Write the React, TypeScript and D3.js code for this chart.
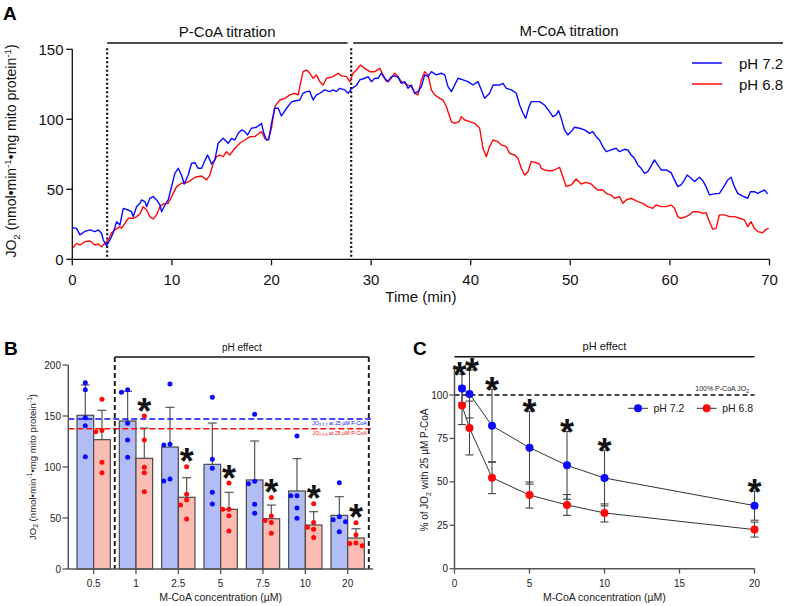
import React from "react";
import * as d3 from "d3";

// ---------- Panel A : JO2 traces ----------
const timeBlue = [0,0.43,0.77,1.27,1.77,2.27,2.61,2.94,3.11,3.44,3.78,4.11,4.45,4.78,5.12,5.62,5.95,6.12,6.45,6.79,6.96,7.29,7.46,7.79,8.13,8.46,8.80,8.96,9.30,9.63,9.97,10.30,10.64,10.97,11.24,11.64,11.97,12.31,12.64,12.98,13.31,13.58,13.81,13.98,14.31,14.65,15.15,15.65,15.99,16.32,16.66,16.99,17.32,17.59,17.99,18.49,18.83,19.00,19.23,19.50,19.73,20.00,20.33,20.67,21.00,21.51,22.01,22.34,22.68,
22.84,23.17,23.51,23.84,24.18,24.51,24.85,25.35,25.85,26.18,26.52,26.85,27.36,27.69,28.02,28.53,28.86,29.36,29.70,30.03,30.37,30.70,31.03,31.37,31.70,32.04,32.37,32.71,33.04,33.38,33.71,34.04,34.38,34.71,35.05,35.38,35.72,36.05,36.55,37.05,37.39,37.72,38.06,38.39,38.73,39.23,39.73,40.23,40.73,41.07,41.40,41.90,42.24,42.91,43.24,43.58,44.08,44.58,44.91,45.25,45.52,45.85,46.08,46.59,
46.91,47.41,47.92,48.25,48.58,48.82,49.09,49.42,49.75,50.09,50.42,50.93,51.43,51.93,52.26,52.60,52.93,53.27,53.60,54.10,54.60,54.94,55.44,55.77,56.11,56.44,56.78,57.11,57.45,57.78,58.12,58.45,58.78,59.12,59.62,60.12,60.46,60.79,61.13,61.46,61.73,62.13,62.46,62.97,63.30,63.63,63.97,64.47,64.97,65.31,65.81,66.14,66.48,66.81,67.31,67.81,68.08,68.48,68.82,69.15,69.49,69.82];
const jo2Blue = [22.6,22.1,17.4,20.0,21.0,19.8,21.0,18.6,13.8,9.8,13.8,19.0,26.9,24.5,36.4,35.2,34.0,30.5,37.6,40.0,42.4,41.2,37.6,43.6,44.8,42.4,38.8,34.0,38.8,42.4,52.0,61.4,65.0,60.0,53.8,60.2,68.6,69.0,65.0,65.0,70.5,74.5,71.0,68.1,71.0,82.9,86.4,82.9,86.4,85.2,90.0,92.4,91.2,88.8,93.6,94.3,96.0,97.1,90.0,85.2,85.7,97.1,107.9,107.9,102.4,107.9,112.4,113.1,113.6,
113.8,118.6,119.8,120.0,113.8,117.4,118.6,121.0,119.8,121.0,119.8,122.1,121.0,118.6,121.7,124.3,128.1,129.3,130.5,126.9,129.3,129.3,132.9,129.3,126.9,130.5,131.0,130.0,125.7,126.9,122.1,124.5,118.6,119.8,123.3,131.7,130.5,134.0,131.7,132.9,131.7,123.3,119.8,124.5,129.3,128.1,126.9,124.5,126.9,121.0,115.0,118.6,124.5,124.5,125.7,122.1,121.0,118.6,110.2,104.3,100.7,109.0,112.6,112.6,
112.6,110.2,105.5,101.9,103.1,106.2,100.7,92.4,88.8,91.2,94.3,93.6,92.4,90.0,91.2,87.6,85.2,80.5,76.9,78.1,79.3,76.9,78.6,78.1,74.5,72.1,67.4,65.0,61.4,62.6,66.7,71.0,67.4,63.8,63.8,61.9,56.7,51.9,53.1,56.7,60.2,57.9,55.5,58.6,56.2,51.9,46.0,46.7,47.1,50.7,56.7,58.6,51.9,47.1,45.2,43.6,48.3,48.3,47.1,48.3,49.5,46.7];

const timeRed = [0,0.43,0.77,1.27,1.77,2.27,2.61,2.94,3.28,3.61,3.95,4.28,4.78,4.95,5.28,5.62,6.12,6.45,6.79,7.12,7.46,7.79,8.13,8.46,8.80,9.13,9.63,9.97,10.47,10.97,11.30,11.81,12.31,12.98,13.48,13.81,14.15,14.48,14.82,15.15,15.48,15.82,16.32,16.82,17.32,17.83,18.33,18.66,19.00,19.33,19.67,20.00,20.33,20.84,21.34,21.84,22.34,22.68,
22.84,23.17,23.51,23.84,24.18,24.51,24.85,25.18,25.52,26.18,26.69,27.02,27.52,27.86,28.19,28.53,28.93,29.36,29.86,30.37,30.87,31.20,31.54,31.87,32.37,32.71,33.04,33.38,33.71,34.04,34.38,34.71,35.05,35.38,35.72,36.05,36.39,36.89,37.22,37.56,38.06,38.39,38.83,39.06,39.40,39.90,40.40,40.90,41.23,41.57,41.90,42.24,42.74,43.07,43.58,43.91,44.41,44.75,45.08,45.42,45.75,46.08,46.59,
46.91,47.08,47.41,47.75,48.25,48.58,48.92,49.25,49.59,50.09,50.59,51.09,51.59,52.10,52.43,52.76,53.27,53.60,54.10,54.44,54.94,55.27,55.61,56.11,56.44,56.78,57.28,57.78,58.28,58.62,59.12,59.62,60.12,60.46,60.79,61.13,61.63,61.96,62.30,62.80,63.30,63.63,63.97,64.30,64.64,64.97,65.47,65.98,66.48,66.98,67.48,67.81,68.15,68.48,68.82,69.32,69.65,69.92];
const jo2Red = [7.9,11.4,10.2,12.6,13.1,10.2,10.9,9.0,11.4,13.8,19.0,21.0,23.3,22.1,25.7,29.3,29.3,30.5,32.4,37.6,35.2,30.5,28.8,31.7,37.6,39.5,40.0,44.8,51.9,54.3,54.3,56.0,58.6,59.5,56.7,60.2,68.6,73.3,74.5,73.3,76.9,74.5,79.3,82.9,85.2,87.6,87.6,89.5,91.2,86.4,85.2,93.6,109.0,113.8,115.0,117.4,118.6,117.4,
123.3,134.0,135.2,133.0,129.3,131.7,126.9,124.5,129.3,130.5,132.9,131.0,130.5,126.9,132.9,135.2,138.8,136.4,134.0,134.0,136.4,131.7,126.9,128.1,132.9,130.5,126.9,125.7,124.5,123.3,118.6,117.4,128.1,134.0,131.7,121.0,117.4,115.0,113.8,109.0,98.3,97.1,98.3,101.9,99.5,98.3,97.1,93.6,79.3,73.3,80.5,85.2,84.0,81.7,80.5,75.7,74.5,72.1,65.0,60.2,62.6,69.8,69.0,
68.0,65.0,63.8,63.3,63.3,64.5,65.7,59.0,51.9,53.1,57.4,53.8,55.0,53.8,51.4,49.5,49.5,47.1,45.9,43.6,44.8,40.0,42.4,43.6,42.4,41.2,40.0,37.6,36.4,38.8,37.6,37.6,38.8,36.4,30.5,29.3,30.5,31.7,34.0,34.0,32.9,33.3,26.9,21.4,22.1,31.7,31.7,30.5,30.5,29.3,28.1,23.3,26.9,22.1,19.8,19.0,21.4,22.1];

const titrationTimes = [3.5, 28];
const titrationLabels = ["P-CoA titration", "M-CoA titration"];
const seriesLabels = ["pH 7.2", "pH 6.8"];

// ---------- Panel B : bars ----------
const mcoaLabels = ["0.5", "1", "2.5", "5", "7.5", "10", "20"];
const meanPH72 = [150.7, 145.1, 119.6, 102.6, 87.3, 76.5, 52.6];
const sdPH72 = [29.7, 29.1, 38.9, 40.5, 38.2, 31.7, 18.3];
const meanPH68 = [126.8, 108.5, 70.3, 58.5, 49.3, 43.1, 30.4];
const sdPH68 = [28.8, 29.7, 19.2, 16.7, 13.4, 13.1, 9.1];
const dotsPH72 = [
  [182.7, 175.8, 148.4, 140.5, 110.1],
  [175.8, 173.2, 142.8, 126.5, 109.5],
  [181.4, 121.6, 122.2, 86.3, 88.2],
  [168.3, 107.5, 98.7, 75.2, 63.7],
  [151.6, 83.5, 86.0, 63.4, 54.6],
  [130.4, 71.9, 71.9, 59.8, 49.7],
  [84.6, 48.4, 51.3, 46.4, 36.6],
];
const dotsPH68 = [
  [166.3, 134.6, 135.9, 104.6, 94.4],
  [150.0, 126.5, 99.7, 94.4, 75.8],
  [100.3, 73.2, 67.6, 62.8, 49.0],
  [84.3, 58.5, 58.5, 52.3, 37.3],
  [70.0, 47.5, 52.0, 45.6, 35.0],
  [64.0, 45.6, 41.0, 39.0, 31.0],
  [45.4, 33.5, 22.9, 25.5, 25.0],
];
const sigB = [false, true, true, true, true, true, true];
const refPH72 = 147.1;
const refPH68 = 137.6;

// ---------- Panel C : % of P-CoA JO2 ----------
const mcoaConc = [0.5, 1, 2.5, 5, 7.5, 10, 20];
const pctPH72 = [103.8, 100.6, 82.3, 69.7, 59.5, 52.2, 36.3];
const sdPct72 = [8.2, 13.8, 21.0, 21.0, 19.5, 16.0, 8.4];
const pctPH68 = [94.0, 81.0, 52.4, 42.4, 36.7, 32.1, 22.5];
const sdPct68 = [11.0, 15.5, 9.2, 7.5, 6.0, 5.2, 4.3];
const sigC = [true, true, true, true, true, true, true];

const BLUE = "#0a0aff";
const RED = "#ff0a0a";
const BLUE_FILL = "#b3bdf5";
const RED_FILL = "#fbbcb4";
const FONT = "'Liberation Sans', Arial, Helvetica, sans-serif";
const AX = "#555";

function swarm(values: number[], y: (v: number) => number, cx: number) {
  const order = values.map((v, i) => i).sort((a, b) => values[b] - values[a]);
  const placed: { x: number; y: number }[] = [];
  const out: { x: number; y: number }[] = new Array(values.length);
  const cands = [0, -6.2, 6.2, -12.4, 12.4];
  for (const i of order) {
    const py = y(values[i]);
    let px = cx;
    for (const c of cands) {
      const ok = placed.every((p) => Math.hypot(p.x - (cx + c), p.y - py) >= 5);
      if (ok) { px = cx + c; break; }
    }
    const pt = { x: px, y: py };
    placed.push(pt);
    out[i] = pt;
  }
  return out;
}

function Star({ x, cy, size = 36 }: { x: number; cy: number; size?: number }) {
  return (
    <text x={x} y={cy + size * 0.57} textAnchor="middle" fontSize={size} fontWeight="bold" fill="#111" fontFamily={FONT}>*</text>
  );
}

function JO2Title({ fs }: { fs: number }) {
  const s = fs * 0.7;
  return (
    <>
      {"JO"}
      <tspan dy={fs * 0.25} fontSize={s}>2</tspan>
      <tspan dy={-fs * 0.25}>{" (nmol•min"}</tspan>
      <tspan dy={-fs * 0.38} fontSize={s}>-1</tspan>
      <tspan dy={fs * 0.38}>{"•mg mito protein"}</tspan>
      <tspan dy={-fs * 0.38} fontSize={s}>-1</tspan>
      <tspan dy={fs * 0.38}>)</tspan>
    </>
  );
}

export default function App() {
  // ----- A scales
  const xA = d3.scaleLinear().domain([0, 70]).range([72.3, 769.5]);
  const yA = d3.scaleLinear().domain([0, 150]).range([259.3, 49.3]);
  const lineA = d3.line<[number, number]>().x((d) => xA(d[0])).y((d) => yA(d[1]));
  const blueData = timeBlue.map((t, i) => [t, jo2Blue[i]] as [number, number]);
  const redData = timeRed.map((t, i) => [t, jo2Red[i]] as [number, number]);

  // ----- B scales
  const yB = d3.scaleLinear().domain([0, 200]).range([569, 365]);
  const xB = d3.scaleBand<string>().domain(mcoaLabels).range([68.3, 373]).paddingInner(0.213).paddingOuter(0.205);
  const bw = xB.bandwidth();
  const half = bw / 2;
  const stepB = xB.step();
  const boxL = (xB("1") as number) - (stepB - bw) / 2;
  const boxR = (xB("20") as number) + bw + (stepB - bw) / 2;
  const boxTop = yB(200) - 8;

  // ----- C scales
  const xC = d3.scaleLinear().domain([0, 20]).range([454.5, 754.5]);
  const yC = d3.scaleLinear().domain([0, 100]).range([568.7, 395]);
  const lineC = d3.line<number>().x((d, i) => xC(mcoaConc[i])).y((d) => yC(d));

  // star positions in C: spread apart neighbours that would collide
  const starXC: number[] = mcoaConc.map((c) => xC(c));
  for (let i = 1; i < starXC.length; i++) {
    const gap = starXC[i] - starXC[i - 1];
    if (gap < 12.5) {
      const mid = (starXC[i] + starXC[i - 1]) / 2;
      starXC[i - 1] = mid - 6.25;
      starXC[i] = mid + 6.25;
    }
  }

  return (
    <svg width={785} height={606} style={{ position: "absolute", left: 0, top: 0, background: "#fff" }} fontFamily={FONT}>
      <rect width={785} height={606} fill="#fff" />
      {/* ================= PANEL A ================= */}
      <text x={3} y={20} fontSize={19} fontWeight="bold">A</text>
      <line x1={xA(titrationTimes[0])} x2={xA(titrationTimes[1]) - 3.5} y1={43} y2={43} stroke="#111" strokeWidth={1.3} />
      <line x1={xA(titrationTimes[1]) + 2} x2={783} y1={43} y2={43} stroke="#111" strokeWidth={1.3} />
      <text x={(xA(titrationTimes[0]) + xA(titrationTimes[1])) / 2 - 2} y={37} fontSize={15} textAnchor="middle" fill="#111">{titrationLabels[0]}</text>
      <text x={569} y={36} fontSize={15} textAnchor="middle" fill="#111">{titrationLabels[1]}</text>
      {titrationTimes.map((t) => (
        <line key={t} x1={xA(t)} x2={xA(t)} y1={yA(150) - 1} y2={yA(0)} stroke="#111" strokeWidth={2.2} strokeDasharray="2,2.3" />
      ))}
      <path d={lineA(redData) || ""} fill="none" stroke={RED} strokeWidth={1.4} strokeLinejoin="round" />
      <path d={lineA(blueData) || ""} fill="none" stroke={BLUE} strokeWidth={1.4} strokeLinejoin="round" />
      <line x1={xA(0)} x2={xA(0)} y1={yA(0)} y2={yA(150)} stroke="#111" strokeWidth={1.3} />
      <line x1={xA(0)} x2={xA(70)} y1={yA(0)} y2={yA(0)} stroke="#111" strokeWidth={1.3} />
      {yA.ticks(3).map((v) => (
        <g key={"ya" + v}>
          <line x1={xA(0) - 6} x2={xA(0)} y1={yA(v)} y2={yA(v)} stroke="#111" strokeWidth={1.3} />
          <text x={63.5} y={yA(v) + 5.3} fontSize={15} textAnchor="end" fill="#111">{v}</text>
        </g>
      ))}
      {d3.range(0, 71, 10).map((v) => (
        <g key={"xa" + v}>
          <line x1={xA(v)} x2={xA(v)} y1={yA(0)} y2={yA(0) + 6} stroke="#111" strokeWidth={1.3} />
          <text x={xA(v)} y={284.5} fontSize={15} textAnchor="middle" fill="#111">{v}</text>
        </g>
      ))}
      <text x={(xA(0) + xA(70)) / 2} y={302} fontSize={15} textAnchor="middle" fill="#111">Time (min)</text>
      <text transform={`translate(16,151) rotate(-90)`} fontSize={14} textAnchor="middle" fill="#111"><JO2Title fs={14} /></text>
      {[BLUE, RED].map((c, i) => (
        <g key={"lga" + i}>
          <line x1={692} x2={722} y1={63 + i * 21} y2={63 + i * 21} stroke={c} strokeWidth={1.5} />
          <text x={739} y={68.5 + i * 21} fontSize={15} fill="#111">{seriesLabels[i]}</text>
        </g>
      ))}

      {/* ================= PANEL B ================= */}
      <text x={4} y={355} fontSize={19} fontWeight="bold">B</text>
      {mcoaLabels.map((c, i) => {
        const x0 = xB(c) as number;
        return (
          <g key={"bar" + c}>
            <line x1={x0 + half / 2} x2={x0 + half / 2} y1={yB(meanPH72[i])} y2={yB(meanPH72[i] + sdPH72[i])} stroke="#555" strokeWidth={1.2} />
            <line x1={x0 + half / 2 - 4.5} x2={x0 + half / 2 + 4.5} y1={yB(meanPH72[i] + sdPH72[i])} y2={yB(meanPH72[i] + sdPH72[i])} stroke="#555" strokeWidth={1.2} />
            <line x1={x0 + half * 1.5} x2={x0 + half * 1.5} y1={yB(meanPH68[i])} y2={yB(meanPH68[i] + sdPH68[i])} stroke="#555" strokeWidth={1.2} />
            <line x1={x0 + half * 1.5 - 4.5} x2={x0 + half * 1.5 + 4.5} y1={yB(meanPH68[i] + sdPH68[i])} y2={yB(meanPH68[i] + sdPH68[i])} stroke="#555" strokeWidth={1.2} />
            <rect x={x0} y={yB(meanPH72[i])} width={half} height={yB(0) - yB(meanPH72[i])} fill={BLUE_FILL} stroke="#4a4a4a" strokeWidth={1.2} />
            <rect x={x0 + half} y={yB(meanPH68[i])} width={half} height={yB(0) - yB(meanPH68[i])} fill={RED_FILL} stroke="#4a4a4a" strokeWidth={1.2} />
          </g>
        );
      })}
      <line x1={68.3} x2={boxR + 2} y1={yB(refPH72)} y2={yB(refPH72)} stroke={BLUE} strokeWidth={1.5} strokeDasharray="6,3" />
      <line x1={68.3} x2={boxR + 2} y1={yB(refPH68)} y2={yB(refPH68)} stroke={RED} strokeWidth={1.5} strokeDasharray="6,3" />
      <text x={boxR - 2} y={yB(refPH72) + 6.5} fontSize={5.3} textAnchor="end" fill={BLUE}>JO<tspan dy={1} fontSize={3.8}>2 7.2</tspan><tspan dy={-1}> at 25 µM P-CoA</tspan></text>
      <text x={boxR - 2} y={yB(refPH68) + 6.5} fontSize={5.3} textAnchor="end" fill={RED}>JO<tspan dy={1} fontSize={3.8}>2 6.8</tspan><tspan dy={-1}> at 25 µM P-CoA</tspan></text>
      {mcoaLabels.map((c, i) => {
        const x0 = xB(c) as number;
        const pb = swarm(dotsPH72[i], yB, x0 + half / 2);
        const pr = swarm(dotsPH68[i], yB, x0 + half * 1.5);
        return (
          <g key={"dots" + c}>
            {pb.map((p, j) => <circle key={"b" + j} cx={p.x} cy={p.y} r={2.5} fill={BLUE} />)}
            {pr.map((p, j) => <circle key={"r" + j} cx={p.x} cy={p.y} r={2.5} fill={RED} />)}
          </g>
        );
      })}
      {mcoaLabels.map((c, i) => {
        if (!sigB[i]) return null;
        const x0 = xB(c) as number;
        const top = Math.max(meanPH68[i] + sdPH68[i], d3.max(dotsPH68[i]) as number);
        return <Star key={"sb" + c} x={x0 + half * 1.5} cy={yB(top) - 13} />;
      })}
      <line x1={boxL} x2={boxR} y1={boxTop} y2={boxTop} stroke="#111" strokeWidth={1.5} />
      <line x1={boxL} x2={boxL} y1={boxTop} y2={yB(0)} stroke="#222" strokeWidth={2} strokeDasharray="5,3" />
      <line x1={boxR} x2={boxR} y1={boxTop} y2={yB(0)} stroke="#222" strokeWidth={2} strokeDasharray="5,3" />
      <text x={(boxL + boxR) / 2} y={350.5} fontSize={10} textAnchor="middle" fill="#111">pH effect</text>
      <line x1={68.3} x2={68.3} y1={yB(0)} y2={yB(200)} stroke={AX} strokeWidth={1.5} />
      <line x1={68.3} x2={373} y1={yB(0)} y2={yB(0)} stroke={AX} strokeWidth={1.5} />
      {yB.ticks(4).map((v) => (
        <g key={"yb" + v}>
          <line x1={62.5} x2={68.3} y1={yB(v)} y2={yB(v)} stroke={AX} strokeWidth={1.3} />
          <text x={61} y={yB(v) + 3.6} fontSize={10} textAnchor="end" fill="#222">{v}</text>
        </g>
      ))}
      {mcoaLabels.map((c) => (
        <g key={"xb" + c}>
          <line x1={(xB(c) as number) + half} x2={(xB(c) as number) + half} y1={yB(0)} y2={yB(0) + 5} stroke={AX} strokeWidth={1.3} />
          <text x={(xB(c) as number) + half} y={586.5} fontSize={10} textAnchor="middle" fill="#222">{c}</text>
        </g>
      ))}
      <text x={(68.3 + 373) / 2} y={601} fontSize={10.5} textAnchor="middle" fill="#222">M-CoA concentration (µM)</text>
      <text transform={`translate(36,467) rotate(-90)`} fontSize={9.6} textAnchor="middle" fill="#222"><JO2Title fs={9.6} /></text>

      {/* ================= PANEL C ================= */}
      <text x={413} y={355} fontSize={19} fontWeight="bold">C</text>
      <line x1={xC(0)} x2={xC(20)} y1={356.7} y2={356.7} stroke="#111" strokeWidth={1.5} />
      <text x={(xC(0) + xC(20)) / 2} y={350} fontSize={11} textAnchor="middle" fill="#111">pH effect</text>
      <line x1={xC(0)} x2={xC(20)} y1={yC(100)} y2={yC(100)} stroke="#111" strokeWidth={1.6} strokeDasharray="5,3" />
      <text x={749} y={391} fontSize={7} textAnchor="end" fill="#222">100% P-CoA JO<tspan dy={1.5} fontSize={5}>2</tspan></text>
      <path d={lineC(pctPH72) || ""} fill="none" stroke="#333" strokeWidth={1} />
      <path d={lineC(pctPH68) || ""} fill="none" stroke="#333" strokeWidth={1} />
      {[[pctPH72, sdPct72], [pctPH68, sdPct68]].map(([m, s], k) => (
        <g key={"ec" + k}>
          {mcoaConc.map((c, i) => (
            <g key={i}>
              <line x1={xC(c)} x2={xC(c)} y1={yC(m[i] - s[i])} y2={yC(m[i] + s[i])} stroke="#444" strokeWidth={1.1} />
              <line x1={xC(c) - 4} x2={xC(c) + 4} y1={yC(m[i] - s[i])} y2={yC(m[i] - s[i])} stroke="#444" strokeWidth={1.1} />
              <line x1={xC(c) - 4} x2={xC(c) + 4} y1={yC(m[i] + s[i])} y2={yC(m[i] + s[i])} stroke="#444" strokeWidth={1.1} />
            </g>
          ))}
        </g>
      ))}
      {mcoaConc.map((c, i) => <circle key={"cr" + i} cx={xC(c)} cy={yC(pctPH68[i])} r={4} fill={RED} />)}
      {mcoaConc.map((c, i) => <circle key={"cb" + i} cx={xC(c)} cy={yC(pctPH72[i])} r={4} fill={BLUE} />)}
      {mcoaConc.map((c, i) => sigC[i] ? <Star key={"sc" + i} x={starXC[i]} cy={yC(pctPH72[i] + sdPct72[i]) - 7} /> : null)}
      {[BLUE, RED].map((col, i) => (
        <g key={"lgc" + i}>
          <line x1={628 + i * 68.7} x2={648 + i * 68.7} y1={408.3} y2={408.3} stroke="#333" strokeWidth={1} />
          <circle cx={638 + i * 68.7} cy={408.3} r={4} fill={col} />
          <text x={653.5 + i * 68.7} y={412.2} fontSize={10.5} fill="#222">{seriesLabels[i]}</text>
        </g>
      ))}
      <line x1={xC(0)} x2={xC(0)} y1={yC(0)} y2={yC(115)} stroke={AX} strokeWidth={1.5} />
      <line x1={xC(0)} x2={xC(20)} y1={yC(0)} y2={yC(0)} stroke={AX} strokeWidth={1.5} />
      {d3.range(0, 101, 25).map((v) => (
        <g key={"yc" + v}>
          <line x1={xC(0) - 5} x2={xC(0)} y1={yC(v)} y2={yC(v)} stroke={AX} strokeWidth={1.3} />
          <text x={448} y={yC(v) + 3.6} fontSize={10} textAnchor="end" fill="#222">{v}</text>
        </g>
      ))}
      {xC.ticks(4).map((v) => (
        <g key={"xc" + v}>
          <line x1={xC(v)} x2={xC(v)} y1={yC(0)} y2={yC(0) + 5} stroke={AX} strokeWidth={1.3} />
          <text x={xC(v)} y={586.5} fontSize={10} textAnchor="middle" fill="#222">{v}</text>
        </g>
      ))}
      <text x={(xC(0) + xC(20)) / 2} y={601} fontSize={10.5} textAnchor="middle" fill="#222">M-CoA concentration (µM)</text>
      <text transform={`translate(428,470) rotate(-90)`} fontSize={10} textAnchor="middle" fill="#222">
        {"% of JO"}
        <tspan dy={2.5} fontSize={7}>2</tspan>
        <tspan dy={-2.5}>{" with 25 µM P-CoA"}</tspan>
      </text>
    </svg>
  );
}
